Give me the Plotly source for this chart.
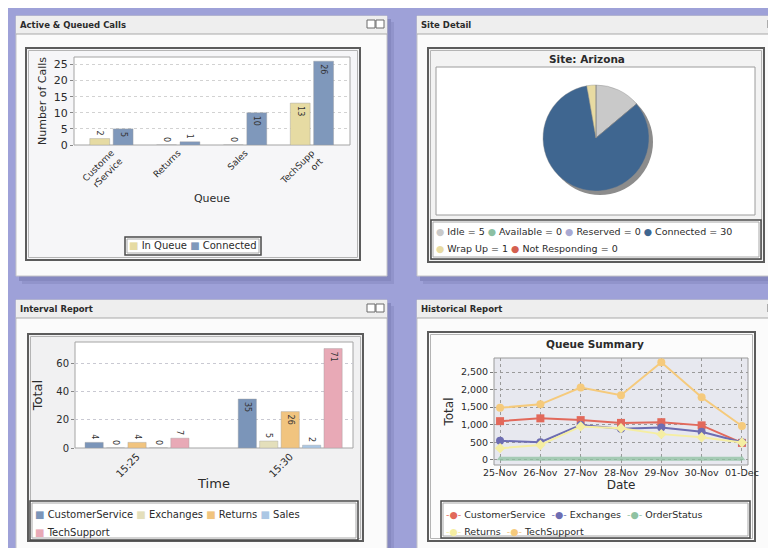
import plotly.graph_objects as go

W, H = 776, 548


def fx(p):
    return p / W


def fy(p):
    return 1 - p / H


FONT = "DejaVu Sans"
TXT = "#2b2b2b"

# ---------------- data ----------------
queue_names = ["CustomerService", "Returns", "Sales", "TechSupport"]
queue_tick_labels = ["Custome<br>rService", "Returns", "Sales", "TechSupp<br>ort"]
queue_series = ["In Queue", "Connected"]
queue_in_queue = [2, 0, 0, 13]
queue_connected = [5, 1, 10, 26]

site_name = "Arizona"
site_states = ["Idle", "Available", "Reserved", "Connected", "Wrap Up", "Not Responding"]
site_counts = [5, 0, 0, 30, 1, 0]

interval_times = ["15:25", "15:30"]
interval_series = ["CustomerService", "Exchanges", "Returns", "Sales", "TechSupport"]
interval_customer_service = [4, 35]
interval_exchanges = [0, 5]
interval_returns = [4, 26]
interval_sales = [0, 2]
interval_tech_support = [7, 71]

hist_dates = ["25-Nov", "26-Nov", "27-Nov", "28-Nov", "29-Nov", "30-Nov", "01-Dec"]
hist_series = ["CustomerService", "Exchanges", "OrderStatus", "Returns", "TechSupport"]
hist_customer_service = [1100, 1180, 1130, 1050, 1070, 980, 480]
hist_exchanges = [540, 500, 990, 880, 920, 800, 500]
hist_order_status = [25, 25, 25, 25, 25, 25, 25]
hist_returns = [330, 420, 950, 900, 730, 640, 490]
hist_tech_support = [1480, 1580, 2060, 1840, 2780, 1780, 960]

# ---------------- styles ----------------
BG = "#9ea1d8"
queue_colors = ["#e6dba3", "#7f98bb"]
site_colors = ["#c9c9c9", "#8cbfa3", "#a9a9d2", "#3f6690", "#e8dba2", "#d4604f"]
interval_colors = ["#7b95b9", "#e4dfbb", "#f1c47f", "#abc7e4", "#e8a9b6"]
hist_colors = ["#e2695b", "#6d6db2", "#8fc2a2", "#f5eea2", "#f5ca7c"]
hist_symbols = ["square", "circle", "triangle-up", "diamond", "circle"]

BARGAP = 0.3
P1_X = (66, 342)
P1_RANGE = (-0.56, 3.57)
P3_X = (67, 345)
P3_RANGE = (-0.405, 1.41)

fig = go.Figure()

# ---- Active & Queued Calls ----
queue_values = [queue_in_queue, queue_connected]
for name, vals, col in zip(queue_series, queue_values, queue_colors):
    fig.add_trace(go.Bar(
        x=queue_names, y=vals, name=name, xaxis="x", yaxis="y",
        marker=dict(color=col, line=dict(color="#9a9a9a", width=0.4)),
        texttemplate="%{y}", textposition="auto", insidetextanchor="end",
        textangle=90, constraintext="none", cliponaxis=False,
        textfont=dict(size=8, color="#333", family=FONT), showlegend=False))

# ---- Site Detail pie ----
fig.add_trace(go.Pie(
    labels=site_states, values=site_counts, sort=False, direction="clockwise",
    rotation=0, textinfo="none", showlegend=False, hoverinfo="label+value",
    marker=dict(colors=site_colors, line=dict(color="#8a8a8a", width=0.4)),
    domain=dict(x=[fx(535), fx(641)], y=[fy(183), fy(77)])))

# ---- Interval Report ----
interval_values = [interval_customer_service, interval_exchanges, interval_returns,
                   interval_sales, interval_tech_support]
for name, vals, col in zip(interval_series, interval_values, interval_colors):
    fig.add_trace(go.Bar(
        x=interval_times, y=vals, name=name, xaxis="x2", yaxis="y2",
        marker=dict(color=col, line=dict(color="#a0a0a0", width=0.4)),
        texttemplate="%{y}", textposition="auto", insidetextanchor="end",
        textangle=90, constraintext="none", cliponaxis=False,
        textfont=dict(size=8, color="#333", family=FONT), showlegend=False))

# ---- Historical Report ----
hist_values = [hist_customer_service, hist_exchanges, hist_order_status,
               hist_returns, hist_tech_support]
for name, vals, col, sym in zip(hist_series, hist_values, hist_colors, hist_symbols):
    fig.add_trace(go.Scatter(
        x=hist_dates, y=vals, name=name, xaxis="x3", yaxis="y3",
        mode="lines+markers", line=dict(color=col, width=4 if name == "OrderStatus" else 2),
        marker=dict(symbol=sym, size=8 if name != "OrderStatus" else 6, color=col),
        opacity=0.75 if name == "OrderStatus" else 1, showlegend=False))

# ---------------- frames (shapes) ----------------
shapes = []


def rect(x0, y0, x1, y1, fill="rgba(0,0,0,0)", line="rgba(0,0,0,0)", lw=0):
    shapes.append(dict(type="rect", xref="paper", yref="paper", layer="below",
                       x0=fx(x0), x1=fx(x1), y0=fy(y1), y1=fy(y0),
                       fillcolor=fill, line=dict(color=line, width=lw)))


def hline(x0, x1, y, color, lw=1):
    shapes.append(dict(type="line", xref="paper", yref="paper", layer="below",
                       x0=fx(x0), x1=fx(x1), y0=fy(y), y1=fy(y),
                       line=dict(color=color, width=lw)))


def panel(x0, y0, x1, y1):
    rect(x0 + 6, y0 + 6, x1 + 7, y1 + 8, fill="#9194cb")
    rect(x0 + 3, y0 + 3, x1 + 4, y1 + 5, fill="#8689c0")
    rect(x0, y0, x1, y1, fill="#fbfbfb", line="#c4c4c8", lw=1)
    rect(x0, y0, x1, y0 + 18, fill="#eeeeee")
    hline(x0, x1, y0 + 18, "#a9a9a9", 1)
    bx = x1 - 20 if x1 < W else 760
    rect(bx, y0 + 4, bx + 8, y0 + 12, fill="#ffffff", line="#6a6a6a", lw=1)
    rect(bx + 9, y0 + 4, bx + 17, y0 + 12, fill="#ffffff", line="#6a6a6a", lw=1)


def frame(x0, y0, x1, y1, fill):
    rect(x0, y0, x1, y1, fill=fill, line="#5c5c5c", lw=2)
    rect(x0 + 2.5, y0 + 2.5, x1 - 2.5, y1 - 2.5, line="#b4b4b4", lw=1)


def legend_box(x0, y0, x1, y1):
    rect(x0, y0, x1, y1, fill="#ffffff", line="#4a4a4a", lw=1.5)
    rect(x0 + 2, y0 + 2, x1 - 2, y1 - 2, line="#a8a8a8", lw=1)


# panel 1
panel(8, 8, 379, 268)
frame(18, 40, 352, 252, "#f6f6f8")
rect(P1_X[0], 49, P1_X[1], 137, fill="#ffffff", line="#a4a4a4", lw=1)
legend_box(117, 229, 253, 247)
# panel 2
panel(409, 8, 790, 268)
frame(420, 40, 756, 254, "#f3f3f3")
rect(428, 59, 747, 207, fill="#ffffff", line="#9c9c9c", lw=1)
legend_box(423, 212, 753, 251)
shapes.append(dict(type="circle", xref="paper", yref="paper", layer="below",
                   x0=fx(539), x1=fx(645), y0=fy(187), y1=fy(81),
                   fillcolor="#8c8c8c", line=dict(width=0)))
# panel 3
panel(8, 292, 379, 560)
frame(20, 326, 355, 533, "#f1f1f2")
rect(P3_X[0], 334, P3_X[1], 440, fill="#ffffff", line="#a4a4a4", lw=1)
legend_box(22, 493, 350, 532)
# panel 4
panel(409, 292, 790, 560)
frame(420, 324, 747, 533, "#fcfcfc")
rect(486, 350, 740, 457, fill="#e7e8ef", line="#9a9a9a", lw=1)
legend_box(433, 493, 742, 530)

# ---------------- annotations ----------------
ann = []


def text(x, y, s, size=10, bold=False, xanchor="left", color=TXT):
    ann.append(dict(xref="paper", yref="paper", x=fx(x), y=fy(y), text=f"<b>{s}</b>" if bold else s,
                    showarrow=False, xanchor=xanchor, yanchor="middle",
                    font=dict(family=FONT, size=size, color=color)))


def sw(color, glyph="■"):
    return f"<span style='color:{color}'>{glyph}</span>"


def zero_labels(cats, series_values, xref, yref, xpix, xrange):
    # zero-height bars get no text from plotly; label them at the baseline
    n = len(series_values)
    px_per_cat = (xpix[1] - xpix[0]) / (xrange[1] - xrange[0])
    slot = px_per_cat * (1 - BARGAP) / n
    for i, vals in enumerate(series_values):
        for c, v in zip(cats, vals):
            if v == 0:
                ann.append(dict(xref=xref, yref=yref, x=c, y=v, text=str(v), textangle=90,
                                showarrow=False, yanchor="bottom", xanchor="center",
                                xshift=(i - (n - 1) / 2) * slot, yshift=1,
                                font=dict(family=FONT, size=8, color="#333")))


zero_labels(queue_names, queue_values, "x", "y", P1_X, P1_RANGE)
zero_labels(interval_times, interval_values, "x2", "y2", P3_X, P3_RANGE)

text(10, 17, "Active &amp; Queued Calls", 8.5, True)
text(411, 17, "Site Detail", 8.5, True)
text(10, 301, "Interval Report", 8.5, True)
text(411, 301, "Historical Report", 8.5, True)

text(579, 51, f"Site: {site_name}", 10.5, True, "center")
text(587, 336, "Queue Summary", 10.5, True, "center")

# legends
text(185, 238, " ".join(f"{sw(c)} {n}" for n, c in zip(queue_series, queue_colors)), 10, xanchor="center")

site_items = [f"{sw(c, '●')} {n} = {v}" for n, v, c in zip(site_states, site_counts, site_colors)]
text(426, 223, " ".join(site_items[:4]), 9.5)
text(426, 240, " ".join(site_items[4:]), 9.5)

int_items = [f"{sw(c)} {n}" for n, c in zip(interval_series, interval_colors)]
text(25, 506, " ".join(int_items[:4]), 10)
text(25, 524, " ".join(int_items[4:]), 10)

hist_items = [f"{sw(c, '-●-')} {n}" for n, c in zip(hist_series, hist_colors)]
text(436, 506, "  ".join(hist_items[:3]), 9.5)
text(436, 523, "  ".join(hist_items[3:]), 9.5)

fig.update_layout(
    width=W, height=H, autosize=False,
    margin=dict(l=0, r=0, t=0, b=0, pad=0),
    paper_bgcolor=BG, plot_bgcolor="rgba(0,0,0,0)",
    template="none",
    font=dict(family=FONT, size=10, color=TXT),
    barmode="group", bargap=BARGAP, bargroupgap=0.15,
    shapes=shapes, annotations=ann,
    xaxis=dict(domain=[fx(P1_X[0]), fx(P1_X[1])], anchor="y", type="category",
               range=list(P1_RANGE), tickvals=queue_names, ticktext=queue_tick_labels,
               tickangle=-45, tickfont=dict(family=FONT, size=9, color=TXT),
               showgrid=False, showline=False, ticks="", zeroline=False, automargin=False,
               title=dict(text="Queue", font=dict(family=FONT, size=11, color=TXT), standoff=0)),
    yaxis=dict(domain=[fy(137), fy(49)], anchor="x", range=[0, 27.3], dtick=5,
               tickfont=dict(family=FONT, size=11, color=TXT),
               showgrid=True, gridcolor="#d2d2d2", griddash="dot", zeroline=False,
               ticks="outside", ticklen=3, tickcolor="#888", automargin=False,
               title=dict(text="Number of Calls", font=dict(family=FONT, size=11, color=TXT), standoff=4)),
    xaxis2=dict(domain=[fx(P3_X[0]), fx(P3_X[1])], anchor="y2", type="category",
                range=list(P3_RANGE), tickangle=-45,
                tickfont=dict(family=FONT, size=10, color=TXT),
                showgrid=False, showline=False, ticks="", zeroline=False, automargin=False,
                title=dict(text="Time", font=dict(family=FONT, size=13, color=TXT), standoff=0)),
    yaxis2=dict(domain=[fy(440), fy(334)], anchor="x2", range=[0, 75.7], dtick=20,
                tickfont=dict(family=FONT, size=10, color=TXT),
                showgrid=True, gridcolor="#c9c9d2", griddash="dot", zeroline=False,
                ticks="outside", ticklen=3, tickcolor="#888", automargin=False,
                title=dict(text="Total", font=dict(family=FONT, size=13, color=TXT), standoff=10)),
    xaxis3=dict(domain=[fx(486), fx(740)], anchor="y3", type="category",
                range=[-0.15, 6.15], tickangle=0, ticklabelstandoff=-4,
                tickfont=dict(family=FONT, size=9.5, color=TXT),
                showgrid=True, gridcolor="#9a9a9a", griddash="dot", zeroline=False,
                ticks="outside", ticklen=3, tickcolor="#777", automargin=False,
                title=dict(text="Date", font=dict(family=FONT, size=12, color=TXT), standoff=0)),
    yaxis3=dict(domain=[fy(457), fy(350)], anchor="x3", range=[-150, 2900], dtick=500,
                tickformat=",d", tickfont=dict(family=FONT, size=9.5, color=TXT),
                showgrid=True, gridcolor="#9a9a9a", griddash="dot", zeroline=False,
                ticks="outside", ticklen=3, tickcolor="#777", automargin=False,
                title=dict(text="Total", font=dict(family=FONT, size=12, color=TXT), standoff=4)),
)

fig.write_html("out.html")
